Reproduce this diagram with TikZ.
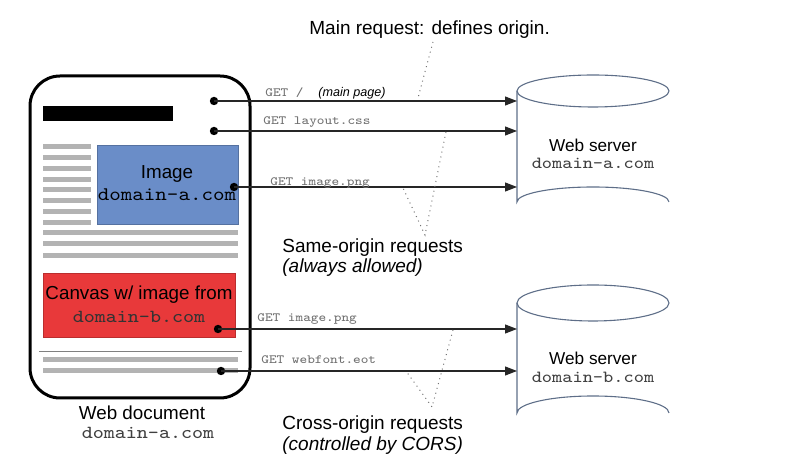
\documentclass[tikz,border=0pt]{standalone}
\usepackage{fontspec}
\usepackage{graphicx}
\setmainfont{Liberation Sans}
\usetikzlibrary{arrows.meta}
\definecolor{barg}{HTML}{B3B3B3}
\definecolor{blueimg}{HTML}{6A8DC8}
\definecolor{redcv}{HTML}{E8393A}
\definecolor{cyl}{HTML}{5E6E88}
\definecolor{getg}{HTML}{707070}
\newcommand{\monotext}[2]{\scalebox{1.143}[1]{\fontsize{#1}{#1}\ttfamily #2}}
\tikzset{
  docframe/.style={line width=1.5pt, rounded corners=15pt},
  bar/.style={fill=barg, draw=none},
  dotn/.style={circle, fill=black, inner sep=0pt, minimum size=4.2pt},
  req/.style={draw=black!85, line width=0.55pt, -{Triangle[length=6pt,width=4.5pt]}},
  getlbl/.style={anchor=west, inner sep=0pt, text=getg},
  sanslbl/.style={inner sep=0pt, font=\fontsize{9.4}{11}\selectfont},
  note/.style={inner sep=0pt, anchor=west, font=\fontsize{9.5}{11}\selectfont},
  pointer/.style={draw=black!55, dotted, line width=0.5pt},
  cylline/.style={draw=cyl, line width=0.55pt},
}
\begin{document}
\begin{tikzpicture}[x=0.5pt, y=-0.5pt]
\useasboundingbox (0,0) rectangle (800,469);
% document
\draw[docframe] (30,76) rectangle (250,398);
\fill[black] (43,106) rectangle (173,121);
\foreach \i in {0,...,7}{
  \fill[bar] (43,{144.5+10.75*\i}) rectangle (91,{149.5+10.75*\i});
}
\node[draw=blueimg!80!black, line width=0.4pt, fill=blueimg, minimum width=70.5pt, minimum height=39.5pt, inner sep=0pt, anchor=north west] (imgbox) at (97,145) {};
\node[sanslbl] (imgt) at (167,174) {Image};
\node[inner sep=0pt] (imgd) at (167,195) {\monotext{9.6}{domain-a.com}};
\foreach \y in {233,244,256}{
  \fill[bar] (43,\y-2.5) rectangle (238,\y+2.5);
}
\node[draw=redcv!80!black, line width=0.4pt, fill=redcv, minimum width=96pt, minimum height=32pt, inner sep=0pt, anchor=north west] (cvbox) at (43,273) {};
\node[sanslbl] (cvt) at (139,295) {Canvas w/ image from};
\node[inner sep=0pt, text=black!80] (cvd) at (139,317) {\monotext{9.2}{domain-b.com}};
\draw[black!50, line width=0.5pt] (39,352) -- (242,352);
\foreach \y in {360,371}{
  \fill[bar] (43,\y-2.5) rectangle (238,\y+2.5);
}
\node[sanslbl] (doct) at (142,413) {Web document};
\node[inner sep=0pt, text=black!75] (docd) at (148,433) {\monotext{9.2}{domain-a.com}};
% dots
\node[dotn] (d1) at (214,101) {};
\node[dotn] (d2) at (214,131) {};
\node[dotn] (d3) at (234,187) {};
\node[dotn] (d4) at (218,329) {};
\node[dotn] (d5) at (221,371) {};
% servers
\draw[cylline] (593,91) ellipse [x radius=76, y radius=16];
\draw[cylline] (517,91) -- (517,202) arc[start angle=180, end angle=360, x radius=76, y radius=15];
\draw[cylline] (593,303) ellipse [x radius=76, y radius=18];
\draw[cylline] (517,303) -- (517,413) arc[start angle=180, end angle=360, x radius=76, y radius=17];
\node[sanslbl, font=\fontsize{8.6}{10}\selectfont] (sa) at (593,145) {Web server};
\node[inner sep=0pt, text=black!75] (sad) at (593,163) {\monotext{8.5}{domain-a.com}};
\node[sanslbl, font=\fontsize{8.6}{10}\selectfont] (sb) at (593,358) {Web server};
\node[inner sep=0pt, text=black!75] (sbd) at (593,377) {\monotext{8.5}{domain-b.com}};
\coordinate (a1) at (517,101);
\coordinate (a2) at (517,131);
\coordinate (a3) at (517,187);
\coordinate (b1) at (517,329);
\coordinate (b2) at (517,371);
% requests
\draw[req] (d1.center) -- (a1);
\draw[req] (d2.center) -- (a2);
\draw[req] (d3.center) -- (a3);
\draw[req] (d4.center) -- (b1);
\draw[req] (d5.center) -- (b2);
\node[getlbl] (g1) at (265,93) {\monotext{6.3}{GET /}};
\node[anchor=west, inner sep=0pt, font=\fontsize{6.3}{7}\selectfont\itshape] (g1b) at (318,93) {(main page)};
\node[getlbl] (g2) at (263,122) {\monotext{6.3}{GET layout.css}};
\node[getlbl] (g3) at (270,183) {\monotext{6.3}{GET image.png}};
\node[getlbl] (g4) at (257,319) {\monotext{6.3}{GET image.png}};
\node[getlbl] (g5) at (261,360) {\monotext{6.3}{GET webfont.eot}};
% notes
\node[note] (mainreq) at (309,30) {Main request: defines origin.};
\coordinate (mtop) at (433,42);
\coordinate (mbot) at (418,98);
\draw[pointer] (mtop) -- (mbot);
\node[note] (same1) at (282,248) {Same-origin requests};
\node[note, font=\fontsize{9.5}{11}\selectfont\itshape] (same2) at (282,268) {(always allowed)};
\coordinate (sapex) at (425,235);
\coordinate (sarm1) at (446,132);
\coordinate (sarm2) at (403,188);
\draw[pointer] (sarm1) -- (sapex) -- (sarm2);
\node[note] (cross1) at (282,425) {Cross-origin requests};
\node[note, font=\fontsize{9.5}{11}\selectfont\itshape] (cross2) at (282,446) {(controlled by CORS)};
\coordinate (capex) at (432,407);
\coordinate (carm1) at (453,330);
\coordinate (carm2) at (406,371);
\draw[pointer] (carm1) -- (capex) -- (carm2);
\end{tikzpicture}
\end{document}
